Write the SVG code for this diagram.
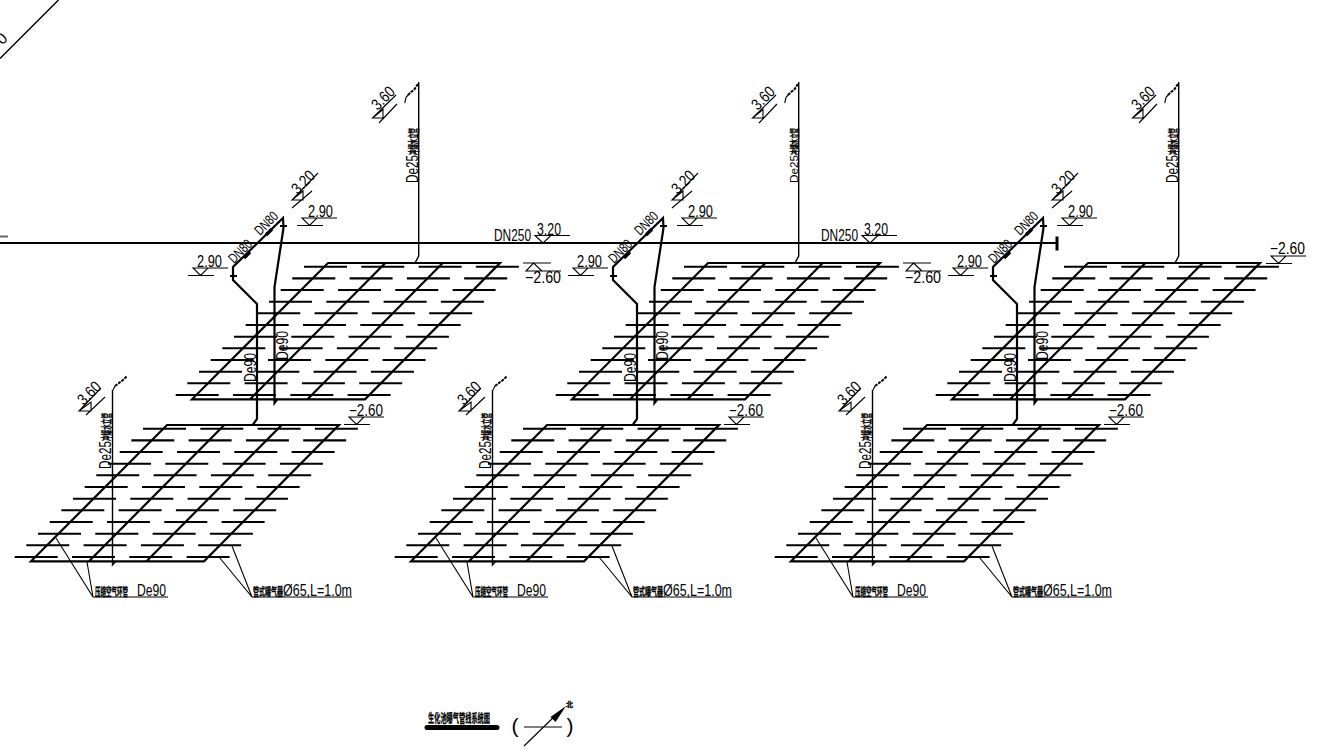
<svg xmlns="http://www.w3.org/2000/svg" xmlns:xlink="http://www.w3.org/1999/xlink" width="1328" height="750" viewBox="0 0 1328 750">
<style>
text{font-family:"Liberation Sans","Noto Sans CJK SC",sans-serif;font-size:16px;fill:#000;text-anchor:start}
.m{text-anchor:middle}
.c{font-family:"Noto Sans CJK SC","Liberation Sans",sans-serif;font-size:11px;font-weight:700;stroke:#000;stroke-width:.3}
.d{font-size:17px}
.n{font-size:14px}
.t{fill:none;stroke:#000;stroke-width:1.1}
.p{fill:none;stroke:#000;stroke-width:2.1}
.r{fill:none;stroke:#000;stroke-width:1.4}
.k{fill:none;stroke:#000;stroke-width:2.2}
.s{fill:none;stroke:#000;stroke-width:2}
</style>
<defs>
<g id="grid">
<path class="k" d="M328 263H500L365 399.3H192ZM385.3 263L250 399.3M442.7 263L307.5 399.3"/>
<path class="p" d="M304 266.7h43m14.3 0h43m14.3 0h43m14.3 0h43M292.3 278.4h43m14.3 0h43m14.3 0h43m14.3 0h43M280.7 290h43m14.3 0h43m14.3 0h43m14.3 0h43M269 301.7h43m14.3 0h43m14.3 0h43m14.3 0h43M257.3 313.3h43m14.3 0h43m14.3 0h43m14.3 0h43M245.7 325h43m14.3 0h43m14.3 0h43m14.3 0h43M234 336.7h43m14.3 0h43m14.3 0h43m14.3 0h43M222.3 348.3h43m14.3 0h43m14.3 0h43m14.3 0h43M210.7 360h43m14.3 0h43m14.3 0h43m14.3 0h43M199 371.7h43m14.3 0h43m14.3 0h43m14.3 0h43M187.3 383.3h43m14.3 0h43m14.3 0h43m14.3 0h43M175.7 395h43m14.3 0h43m14.3 0h43m14.3 0h43"/>
</g>
<path id="flat" class="t" d="M0 0H35M0 0H15L7.5 7.5ZM-5 7.5H21"/>
<path id="main320" class="t" d="M0 0H35M0 0H16L8 7.5Z"/>
<g id="pipes">
<path class="k" d="M253 424.5L257 419V304L233 280V267L283 218L283.5 228L274.5 287V403l3-4"/>
<path class="p" d="M230 276h7M280 226h7"/>
<path d="M244 258l6-6M266 235l6-6" fill="none" stroke="#000" stroke-width="3.400"/>
<path class="r" d="M418.7 82V256L415 263M112.500 390V565l3.500-4"/>
<path class="t" d="M404.700 103l1.500-6 2-2"/>
<path class="s" stroke-dasharray="3 1" d="M408 95l3-3 3-2 4.500-7"/>
<path class="t" d="M113 390l2-4"/>
<path class="s" stroke-dasharray="3 1" d="M115 386l4-3 4-3 4-4"/>
<path class="t" d="M56 538L93 597H168M87 562L93 597M219 557L252 597H352M232 546L252 597"/>
</g>
</defs>

<g id="connectors">
<path class="r" d="M0 58.500L58.500 0"/>
<path d="M0 236.500H8" fill="none" stroke="#666" stroke-width="2"/>
<path class="k" d="M0 243H1057"/>
<path d="M1057 236.500V250.500" fill="none" stroke="#000" stroke-width="3"/>
<use href="#pipes"/>
<use href="#pipes" x="380"/>
<use href="#pipes" x="760"/>
</g>

<g id="grid-upper-1"><use href="#grid"/></g>
<g id="grid-upper-2"><use href="#grid" x="380"/></g>
<g id="grid-upper-3"><use href="#grid" x="760"/></g>
<g id="grid-lower-1"><use href="#grid" x="-161" y="162"/></g>
<g id="grid-lower-2"><use href="#grid" x="219" y="162"/></g>
<g id="grid-lower-3"><use href="#grid" x="599" y="162"/></g>

<g id="main-labels">
<text transform="translate(1.500,38.500) rotate(-45)" class="m" y="5.500">0</text>
<text x="494" y="241" textLength="37" lengthAdjust="spacingAndGlyphs">DN250</text>
<use href="#main320" x="535" y="235.500"/>
<text x="537" y="234.500" textLength="24" lengthAdjust="spacingAndGlyphs">3.20</text>
<text x="821" y="241" textLength="37" lengthAdjust="spacingAndGlyphs">DN250</text>
<use href="#main320" x="862" y="235.500"/>
<text x="864" y="234.500" textLength="24" lengthAdjust="spacingAndGlyphs">3.20</text>
</g>

<g id="unit-1">
<path class="t" d="M372.500 118L396 95M372.500 118H383V109.500ZM379 123L397 104M292 200L318 173M292 200H303V191ZM292 208L312 191M79 411L101 388M79 411H91V402ZM86 415L105 397"/>
<path class="t" d="M523 263H551M526 271H561M526 271H542L533.500 263Z"/>
<use href="#flat" x="302" y="218"/><use href="#flat" x="193" y="268"/><use href="#flat" x="349" y="417"/>
<text transform="translate(383,98) rotate(-45)" class="m" y="5.500" textLength="26" lengthAdjust="spacingAndGlyphs">3.60</text>
<text transform="translate(417.500,183) rotate(-90)"><tspan textLength="28" lengthAdjust="spacingAndGlyphs">De25</tspan><tspan class="c" textLength="27" lengthAdjust="spacingAndGlyphs">冲爆水立管</tspan></text>
<text transform="translate(303,182) rotate(-45)" class="m" y="5.500" textLength="26" lengthAdjust="spacingAndGlyphs">3.20</text>
<text x="308" y="217" textLength="25" lengthAdjust="spacingAndGlyphs">2.90</text>
<text x="197" y="267" textLength="25" lengthAdjust="spacingAndGlyphs">2.90</text>
<text transform="translate(266,223) rotate(-45)" class="m n" y="5" textLength="27" lengthAdjust="spacingAndGlyphs">DN80</text>
<text transform="translate(240,251) rotate(-45)" class="m n" y="5" textLength="27" lengthAdjust="spacingAndGlyphs">DN80</text>
<text transform="translate(256,382) rotate(-90)" class="d" textLength="29" lengthAdjust="spacingAndGlyphs">De90</text>
<text transform="translate(288,360) rotate(-90)" class="d" textLength="29" lengthAdjust="spacingAndGlyphs">De90</text>
<text x="525" y="283" textLength="36" lengthAdjust="spacingAndGlyphs">−2.60</text>
<text x="349" y="416" textLength="34" lengthAdjust="spacingAndGlyphs">−2.60</text>
<text transform="translate(89,393) rotate(-45)" class="m" y="5.500" textLength="26" lengthAdjust="spacingAndGlyphs">3.60</text>
<text transform="translate(111,469) rotate(-90)"><tspan textLength="28" lengthAdjust="spacingAndGlyphs">De25</tspan><tspan class="c" textLength="28" lengthAdjust="spacingAndGlyphs">冲爆水立管</tspan></text>
<text y="595.500"><tspan x="95" y="595.500" class="c" textLength="33" lengthAdjust="spacingAndGlyphs">压缩空气环管</tspan> <tspan x="137" y="595.500" textLength="29" lengthAdjust="spacingAndGlyphs">De90</tspan></text>
<text y="595.500"><tspan x="253" y="595.500" class="c" textLength="30" lengthAdjust="spacingAndGlyphs">管式曝气器</tspan><tspan x="283" y="595.500" textLength="69" lengthAdjust="spacingAndGlyphs">Ø65,L=1.0m</tspan></text>
</g>

<g id="unit-2" transform="translate(380,0)">
<path class="t" d="M372.500 118L396 95M372.500 118H383V109.500ZM379 123L397 104M292 200L318 173M292 200H303V191ZM292 208L312 191M79 411L101 388M79 411H91V402ZM86 415L105 397"/>
<path class="t" d="M523 263H551M526 271H561M526 271H542L533.500 263Z"/>
<use href="#flat" x="302" y="218"/><use href="#flat" x="193" y="268"/><use href="#flat" x="349" y="417"/>
<text transform="translate(383,98) rotate(-45)" class="m" y="5.500" textLength="26" lengthAdjust="spacingAndGlyphs">3.60</text>
<text transform="translate(417.500,183) rotate(-90)" style="font-size:11px"><tspan textLength="28" lengthAdjust="spacingAndGlyphs">De25</tspan><tspan class="c" style="font-size:9px" textLength="27" lengthAdjust="spacingAndGlyphs">冲爆水立管</tspan></text>
<text transform="translate(303,182) rotate(-45)" class="m" y="5.500" textLength="26" lengthAdjust="spacingAndGlyphs">3.20</text>
<text x="308" y="217" textLength="25" lengthAdjust="spacingAndGlyphs">2.90</text>
<text x="197" y="267" textLength="25" lengthAdjust="spacingAndGlyphs">2.90</text>
<text transform="translate(266,223) rotate(-45)" class="m n" y="5" textLength="27" lengthAdjust="spacingAndGlyphs">DN80</text>
<text transform="translate(240,251) rotate(-45)" class="m n" y="5" textLength="27" lengthAdjust="spacingAndGlyphs">DN80</text>
<text transform="translate(256,382) rotate(-90)" class="d" textLength="29" lengthAdjust="spacingAndGlyphs">De90</text>
<text transform="translate(288,360) rotate(-90)" class="d" textLength="29" lengthAdjust="spacingAndGlyphs">De90</text>
<text x="525" y="283" textLength="36" lengthAdjust="spacingAndGlyphs">−2.60</text>
<text x="349" y="416" textLength="34" lengthAdjust="spacingAndGlyphs">−2.60</text>
<text transform="translate(89,393) rotate(-45)" class="m" y="5.500" textLength="26" lengthAdjust="spacingAndGlyphs">3.60</text>
<text transform="translate(111,469) rotate(-90)"><tspan textLength="28" lengthAdjust="spacingAndGlyphs">De25</tspan><tspan class="c" textLength="28" lengthAdjust="spacingAndGlyphs">冲爆水立管</tspan></text>
<text y="595.500"><tspan x="95" y="595.500" class="c" textLength="33" lengthAdjust="spacingAndGlyphs">压缩空气环管</tspan> <tspan x="137" y="595.500" textLength="29" lengthAdjust="spacingAndGlyphs">De90</tspan></text>
<text y="595.500"><tspan x="253" y="595.500" class="c" textLength="30" lengthAdjust="spacingAndGlyphs">管式曝气器</tspan><tspan x="283" y="595.500" textLength="69" lengthAdjust="spacingAndGlyphs">Ø65,L=1.0m</tspan></text>
</g>

<g id="unit-3" transform="translate(760,0)">
<path class="t" d="M372.500 118L396 95M372.500 118H383V109.500ZM379 123L397 104M292 200L318 173M292 200H303V191ZM292 208L312 191M79 411L101 388M79 411H91V402ZM86 415L105 397"/>
<use href="#flat" x="302" y="218"/><use href="#flat" x="193" y="268"/><use href="#flat" x="349" y="417"/><use href="#flat" x="511" y="256"/>
<text transform="translate(383,98) rotate(-45)" class="m" y="5.500" textLength="26" lengthAdjust="spacingAndGlyphs">3.60</text>
<text transform="translate(417.500,183) rotate(-90)"><tspan textLength="28" lengthAdjust="spacingAndGlyphs">De25</tspan><tspan class="c" textLength="27" lengthAdjust="spacingAndGlyphs">冲爆水立管</tspan></text>
<text transform="translate(303,182) rotate(-45)" class="m" y="5.500" textLength="26" lengthAdjust="spacingAndGlyphs">3.20</text>
<text x="308" y="217" textLength="25" lengthAdjust="spacingAndGlyphs">2.90</text>
<text x="197" y="267" textLength="25" lengthAdjust="spacingAndGlyphs">2.90</text>
<text transform="translate(266,223) rotate(-45)" class="m n" y="5" textLength="27" lengthAdjust="spacingAndGlyphs">DN80</text>
<text transform="translate(240,251) rotate(-45)" class="m n" y="5" textLength="27" lengthAdjust="spacingAndGlyphs">DN80</text>
<text transform="translate(256,382) rotate(-90)" class="d" textLength="29" lengthAdjust="spacingAndGlyphs">De90</text>
<text transform="translate(288,360) rotate(-90)" class="d" textLength="29" lengthAdjust="spacingAndGlyphs">De90</text>
<text x="510" y="254" textLength="35" lengthAdjust="spacingAndGlyphs">−2.60</text>
<text x="349" y="416" textLength="34" lengthAdjust="spacingAndGlyphs">−2.60</text>
<text transform="translate(89,393) rotate(-45)" class="m" y="5.500" textLength="26" lengthAdjust="spacingAndGlyphs">3.60</text>
<text transform="translate(111,469) rotate(-90)"><tspan textLength="28" lengthAdjust="spacingAndGlyphs">De25</tspan><tspan class="c" textLength="28" lengthAdjust="spacingAndGlyphs">冲爆水立管</tspan></text>
<text y="595.500"><tspan x="95" y="595.500" class="c" textLength="33" lengthAdjust="spacingAndGlyphs">压缩空气环管</tspan> <tspan x="137" y="595.500" textLength="29" lengthAdjust="spacingAndGlyphs">De90</tspan></text>
<text y="595.500"><tspan x="253" y="595.500" class="c" textLength="30" lengthAdjust="spacingAndGlyphs">管式曝气器</tspan><tspan x="283" y="595.500" textLength="69" lengthAdjust="spacingAndGlyphs">Ø65,L=1.0m</tspan></text>
</g>

<g id="title">
<text x="428" y="723" class="c" style="font-size:12px" textLength="62" lengthAdjust="spacingAndGlyphs">生化池曝气管线系统图</text>
<path d="M427 727.500H497" fill="none" stroke="#000" stroke-width="5" stroke-linecap="round"/>
<text x="511.500" y="733" style="font-size:21px">(</text>
<text x="566.500" y="733" style="font-size:21px">)</text>
<path class="t" d="M524 727H562M524 746L558 713"/>
<path d="M566 706L555.500 722L550.500 717Z"/>
<text x="566" y="707" class="c" style="font-size:7px">北</text>
</g>
</svg>
